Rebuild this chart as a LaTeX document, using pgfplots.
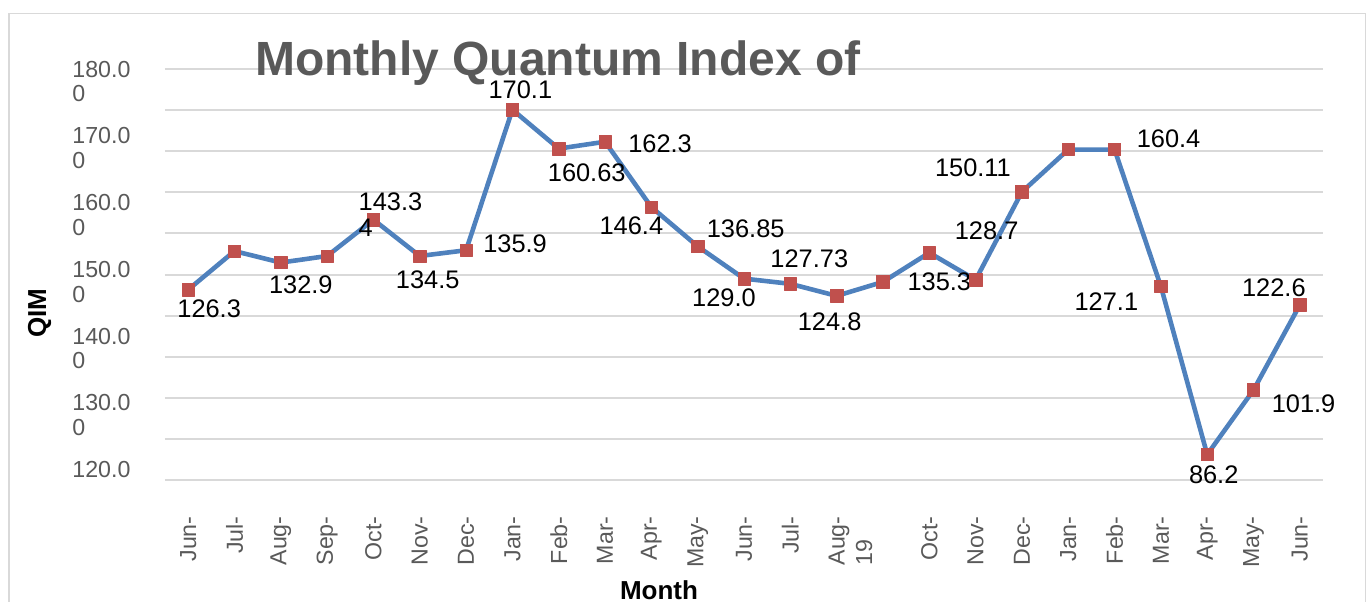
\documentclass[border=0pt]{standalone}
\usepackage{fontspec}
\setmainfont{Liberation Sans}
\usepackage{pgfplots}
\usepackage{pgfplotstable}
\pgfplotsset{compat=1.18}
\definecolor{lineblue}{HTML}{4F81BD}
\definecolor{markred}{HTML}{C0504D}
\definecolor{gridgray}{HTML}{D9D9D9}
\definecolor{txtgray}{HTML}{595959}
\newcommand\octlbl{\vtop{\baselineskip=13pt\hbox{143.3}\hbox{4}}}
\newcommand\yl[2]{\vtop{\baselineskip=12.35pt\hbox{#1}\hbox{#2}}}
\newcommand\augl{\raisebox{0pt}[\height][0pt]{\vtop{\baselineskip=13.75pt\hbox{Aug-}\hbox{19}}}}
\pgfplotstableread{
x y lbl dx dy
0 126.3 126.3 10.5 -9.5
1 135.7 {} 0 0
2 132.9 132.9 10 -11
3 134.5 {} 0 0
4 143.34 {\octlbl} 8.5 2.75
5 134.5 134.5 4 -12
6 135.9 135.9 24.5 3
7 170.1 170.1 4 10
8 160.63 160.63 14 -12.25
9 162.3 162.3 27.5 -1.25
10 146.4 146.4 -10 -9.25
11 136.85 136.85 24 9
12 129.0 129.0 -10 -9.5
13 127.73 127.73 9.5 12.5
14 124.8 124.8 -3.5 -12.75
15 128.2 {} 0 0
16 135.3 135.3 5 -14.5
17 128.7 128.7 5.5 24.75
18 150.11 150.11 -24.5 12
19 160.4 {} 0 0
20 160.4 160.4 27 5.5
21 127.1 127.1 -27.25 -7.5
22 86.2 86.2 3.25 -10.25
23 101.9 101.9 25 -6.75
24 122.6 122.6 -13 8.5
}\datatable
\begin{document}
\begin{tikzpicture}[x=1pt,y=1pt]
\useasboundingbox (-82.5,-60.5) rectangle (601.5,240);
\draw[gridgray, line width=0.75pt] (-78,-80) -- (-78,233.25) -- (600.25,233.25) -- (600.25,-80);
\begin{axis}[
  at={(0,0)}, anchor=south west, scale only axis,
  width=579pt, height=205.5pt,
  xmin=-0.5, xmax=24.5, ymin=80, ymax=180,
  axis line style={draw=none},
  major tick length=0pt,
  clip=false,
  ytick={80,90,...,180}, yticklabels={},
  ymajorgrids, grid style={gridgray, line width=1pt},
  extra y ticks={178.05,161.8,145.55,129.3,113.05,96.8,80.55},
  extra y tick labels={\yl{180.0}{0},\yl{170.0}{0},\yl{160.0}{0},\yl{150.0}{0},\yl{140.0}{0},\yl{130.0}{0},120.0},
  extra y tick style={grid=none},
  yticklabel style={anchor=base west, xshift=-46.5pt, inner sep=0pt, font=\fontsize{11.6}{13.9}\selectfont, text=txtgray},
  xtick={0,...,24},
  xticklabels={Jun-,Jul-,Aug-,Sep-,Oct-,Nov-,Dec-,Jan-,Feb-,Mar-,Apr-,May-,Jun-,Jul-,\augl,{},Oct-,Nov-,Dec-,Jan-,Feb-,Mar-,Apr-,May-,Jun-},
  xticklabel style={rotate=90, anchor=east, inner sep=0pt, font=\fontsize{11.6}{13.9}\selectfont, text=txtgray},
  xticklabel shift=18pt,
]
\addplot[lineblue, line width=2.3pt, line join=round,
  mark=square*, mark size=3.1pt, mark options={fill=markred, draw=markred, line width=0.3pt},
  point meta=explicit symbolic, nodes near coords,
  visualization depends on={\thisrow{dx} \as \dx},
  visualization depends on={\thisrow{dy} \as \dy},
  every node near coord/.append style={anchor=center, xshift=\dx pt, yshift=\dy pt, font=\fontsize{12.7}{13}\selectfont, text=black}]
  table[x=x, y=y, meta=lbl] \datatable;
\end{axis}
\node[anchor=base, inner sep=0pt, font=\fontsize{24}{28}\selectfont\bfseries, text=txtgray] at (196.5,202.5) {Monthly Quantum Index of};
\node[rotate=90, inner sep=0pt, font=\fontsize{13}{15}\selectfont\bfseries] at (-62.65,83.5) {QIM};
\node[anchor=base, inner sep=0pt, font=\fontsize{13}{15}\selectfont\bfseries] at (247,-59.6) {Month};
\end{tikzpicture}
\end{document}
